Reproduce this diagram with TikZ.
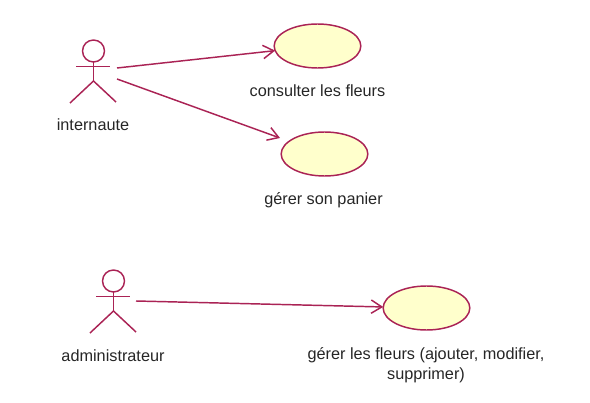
\documentclass[tikz,border=0pt]{standalone}
\usepackage{fontspec}
\setmainfont{Liberation Sans}
\usetikzlibrary{arrows.meta}
\usetikzlibrary{shapes.geometric}
\definecolor{umlline}{RGB}{170,35,85}
\definecolor{umlfill}{RGB}{255,255,204}
\tikzset{
  usecase/.style={ellipse,draw=umlline,fill=umlfill,line width=1.1pt,minimum width=65pt,minimum height=33pt,inner sep=0pt,outer sep=0pt},
  acthead/.style={circle,draw=umlline,line width=1.1pt,minimum size=16.5pt,inner sep=0pt,outer sep=0pt},
  actline/.style={draw=umlline,line width=1.1pt},
  assoc/.style={draw=umlline,line width=1.1pt,-{Straight Barb[length=8pt,width=10pt]}},
  lbl/.style={font=\fontsize{12.2}{15}\selectfont,align=center,text=black!85}
}
\begin{document}
\begin{tikzpicture}[x=0.75pt,y=0.75pt,yscale=-1,xscale=1]
\useasboundingbox (0,0) rectangle (590,403);

% use cases
\node [usecase] (consulter) at (317.5,46) {};
\node [usecase] (panier) at (324.5,154) {};
\node [usecase] (fleurs) at (426.5,308) {};

% internaute
\node [acthead] (headI) at (93.5,51) {};
\coordinate (hipI) at (93.5,81);
\draw [actline] (headI) -- (hipI);
\draw [actline] (76,66.5) -- (110,66.5);
\draw [actline] (70,103) -- (hipI) -- (116,102);

% administrateur
\node [acthead] (headA) at (113.5,281) {};
\coordinate (hipA) at (113.5,311);
\draw [actline] (headA) -- (hipA);
\draw [actline] (96,296.5) -- (130,296.5);
\draw [actline] (90,333) -- (hipA) -- (136,332);

% labels
\node [lbl] (lblI) at (93,125) {internaute};
\node [lbl] (lblA) at (113,356) {administrateur};
\node [lbl] (lblC) at (317.5,91) {consulter les fleurs};
\node [lbl] (lblP) at (323.5,200) {gérer son panier};
\node [lbl] (lblF) at (426,365) {gérer les fleurs (ajouter, modifier,\\supprimer)};

% connections
\coordinate (startC) at (117,68);
\coordinate (startP) at (117,79);
\coordinate (endP) at (280,138);
\coordinate (startF) at (136,301);
\draw [assoc] (startC) -- (consulter);
\draw [assoc] (startP) -- (endP);
\draw [assoc] (startF) -- (fleurs);
\end{tikzpicture}
\end{document}
